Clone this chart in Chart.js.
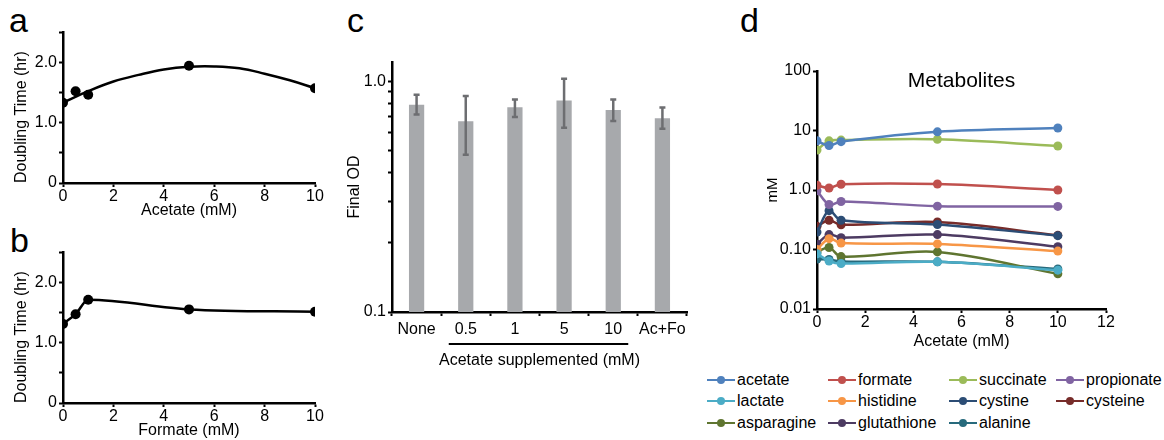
<!DOCTYPE html>
<html>
<head>
<meta charset="utf-8">
<script src="https://cdn.jsdelivr.net/npm/chart.js@4"></script>
<style>
  body { margin: 0; width: 1164px; height: 440px; background: #fff; position: relative; overflow: hidden;
         font-family: "Liberation Sans", Arial, sans-serif; color: #000; }
  canvas { position: absolute; }
  .letter { position: absolute; font-size: 34px; line-height: 1; }
  #legend { position: absolute; left: 707px; top: 369px; display: grid;
            grid-template-columns: 121px 121px 107px 90px; grid-auto-rows: 21.5px; font-size: 16px; }
  #legend div { display: flex; align-items: center; white-space: nowrap; }
  #legend .sw { position: relative; flex: none; width: 28px; height: 2px; margin-right: 2px; }
  #legend .sw i { position: absolute; left: 10px; top: -3px; width: 8px; height: 8px; border-radius: 50%; }
</style>
</head>
<body>
<div class="letter" style="left:9px;top:3px">a</div>
<div class="letter" style="left:10px;top:223px">b</div>
<div class="letter" style="left:347px;top:3px">c</div>
<div class="letter" style="left:740px;top:3px">d</div>

<canvas id="chartA" width="340" height="220" style="left:0;top:0"></canvas>
<canvas id="chartB" width="340" height="220" style="left:0;top:220px"></canvas>
<canvas id="chartC" width="360" height="380" style="left:340px;top:0"></canvas>
<canvas id="chartD" width="424" height="320" style="left:740px;top:40px"></canvas>
<div id="legend"></div>

<script>
// ============================
// DATA
// ============================
// a / b: doubling time vs supplement
const acetateX = [0, 0.5, 1, 5, 10];
const doublingAcetate = [1.33, 1.52, 1.46, 1.94, 1.57];
// trend line
const acetateFitX = [0, 1, 2, 3, 4, 5, 6, 7, 8, 9, 10];
const acetateFitY = [1.33, 1.52, 1.68, 1.79, 1.88, 1.925, 1.93, 1.9, 1.81, 1.7, 1.57];

const formateX = [0, 0.5, 1, 5, 10];
const doublingFormate = [1.31, 1.47, 1.71, 1.55, 1.51];

// c: final OD
const odLabels = ["None", "0.5", "1", "5", "10", "Ac+Fo"];
const odMean = [0.79, 0.67, 0.77, 0.825, 0.75, 0.69];
const odLow = [0.717, 0.48, 0.70, 0.628, 0.671, 0.622];
const odHigh = [0.872, 0.861, 0.833, 1.023, 0.833, 0.769];

// d: metabolites (mM) at acetate 0, 0.5, 1, 5, 10 mM
const metaboliteX = [0, 0.5, 1, 5, 10];
const acetate     = [6.7, 5.6, 6.5, 9.5, 11.0];
const formate     = [1.2, 1.08, 1.25, 1.26, 1.0];
const succinate   = [4.7, 6.7, 6.9, 7.1, 5.5];
const propionate  = [0.97, 0.57, 0.64, 0.535, 0.53];
const lactate     = [0.085, 0.064, 0.058, 0.062, 0.045];
const histidine   = [0.10, 0.152, 0.128, 0.124, 0.094];
const cystine     = [0.196, 0.45, 0.31, 0.263, 0.171];
const cysteine    = [0.245, 0.31, 0.26, 0.29, 0.173];
const asparagine  = [0.091, 0.108, 0.076, 0.091, 0.039];
const glutathione = [0.123, 0.178, 0.158, 0.178, 0.111];
const alanine     = [0.069, 0.068, 0.063, 0.062, 0.047];

const metaboliteNames = ["acetate", "formate", "succinate", "propionate", "lactate", "histidine",
                         "cystine", "cysteine", "asparagine", "glutathione", "alanine"];
const metaboliteValues = [acetate, formate, succinate, propionate, lactate, histidine,
                          cystine, cysteine, asparagine, glutathione, alanine];
const metaboliteColors = ["#4F81BD", "#C0504D", "#9BBB59", "#8064A2", "#4BACC6", "#F79646",
                          "#2C4D75", "#772C2A", "#5F7530", "#4D3B62", "#276A7C"];

// ============================
// SHARED STYLE
// ============================
Chart.defaults.font.family = '"Liberation Sans", Arial, sans-serif';
Chart.defaults.color = "#000";
Chart.defaults.animation = false;

const grid = { drawOnChartArea: false, tickLength: 4, tickColor: "#000", tickWidth: 2 };
const border = { color: "#000", width: 2.5 };
const noPlugins = { legend: { display: false }, tooltip: { enabled: false } };

function pts(xs, ys) {
  return xs.map((x, i) => ({ x: x, y: ys[i] }));
}

// ============================
// a & b: DOUBLING TIME
// ============================
function doublingChart(id, xs, ys, fit, xTitle) {
  const datasets = [];
  if (fit) {
    datasets.push({ data: pts(fit.x, fit.y), showLine: true, pointRadius: 0,
                    borderColor: "#000", borderWidth: 2.5, tension: 0.4 });
  }
  datasets.push({ data: pts(xs, ys), showLine: !fit, pointRadius: 5, pointBackgroundColor: "#000",
                  pointBorderWidth: 0, borderColor: "#000", borderWidth: 2.5,
                  cubicInterpolationMode: "monotone" });

  new Chart(document.getElementById(id), {
    type: "scatter",
    data: { datasets: datasets },
    options: {
      responsive: false,
      layout: { padding: { left: 0, top: 32, right: 25, bottom: 0 } },
      plugins: noPlugins,
      scales: {
        x: {
          type: "linear", min: 0, max: 10,
          ticks: { stepSize: 2, font: { size: 16 }, padding: 0, maxRotation: 0 },
          grid: grid, border: border,
          title: { display: true, text: xTitle, font: { size: 16 }, padding: { top: 0, bottom: 0 } },
          afterFit: s => { s.height = 37; }
        },
        y: {
          min: 0, max: 2.5,
          ticks: { stepSize: 0.5, font: { size: 16 }, padding: 2,
                   callback: v => v === 0 ? "0" : (v % 1 === 0 ? v.toFixed(1) : "") },
          grid: grid, border: border,
          title: { display: true, text: "Doubling Time (hr)", align: "start", font: { size: 16 },
                   padding: { top: 12, bottom: 0 } },
          afterFit: s => { s.width = 63; }
        }
      }
    }
  });
}

doublingChart("chartA", acetateX, doublingAcetate, { x: acetateFitX, y: acetateFitY }, "Acetate (mM)");
doublingChart("chartB", formateX, doublingFormate, null, "Formate (mM)");

// ============================
// c: FINAL OD (bars + error bars)
// ============================
const errorBars = {
  id: "errorBars",
  afterDatasetsDraw(chart) {
    const { ctx, scales: { x, y } } = chart;
    ctx.save();
    ctx.strokeStyle = "#6d6e71";
    ctx.lineWidth = 2.5;
    odLabels.forEach((lab, i) => {
      const px = x.getPixelForValue(i);
      const lo = y.getPixelForValue(odLow[i]);
      const hi = y.getPixelForValue(odHigh[i]);
      ctx.beginPath();
      ctx.moveTo(px, lo); ctx.lineTo(px, hi);
      ctx.moveTo(px - 3, lo); ctx.lineTo(px + 3, lo);
      ctx.moveTo(px - 3, hi); ctx.lineTo(px + 3, hi);
      ctx.stroke();
    });
    // bracket under the acetate categories
    ctx.strokeStyle = "#000";
    ctx.lineWidth = 2;
    ctx.beginPath();
    ctx.moveTo(x.getPixelForValue(1) - 17, 344);
    ctx.lineTo(x.getPixelForValue(4) + 15, 344);
    ctx.stroke();
    ctx.restore();
  }
};

new Chart(document.getElementById("chartC"), {
  type: "bar",
  data: {
    labels: odLabels,
    datasets: [{ data: odMean, backgroundColor: "#a7a9ac", barPercentage: 0.31, categoryPercentage: 1 }]
  },
  options: {
    responsive: false,
    layout: { padding: { left: 0, top: 62, right: 13, bottom: 0 } },
    plugins: noPlugins,
    scales: {
      x: {
        ticks: { font: { size: 16 }, padding: 4, maxRotation: 0, autoSkip: false },
        grid: grid, border: border,
        title: { display: true, text: "Acetate supplemented (mM)", font: { size: 16 }, padding: { top: 0, bottom: 10 } },
        afterFit: s => { s.height = 68; }
      },
      y: {
        type: "logarithmic", min: 0.1, max: 1.21,
        ticks: { font: { size: 16 }, padding: 2, autoSkip: false,
                 callback: v => {
                   if (Math.abs(v - 0.1) < 1e-6) return "0.1";
                   if (Math.abs(v - 1) < 1e-6) return "1.0";
                   if (v > 1.001) return null;
                   return "";
                 } },
        grid: grid, border: border,
        title: { display: true, text: "Final OD", font: { size: 16 }, padding: { top: 5, bottom: 0 } },
        afterFit: s => { s.width = 52; }
      }
    }
  },
  plugins: [errorBars]
});

// ============================
// d: METABOLITES
// ============================
const panelTitle = {
  id: "panelTitle",
  afterDraw(chart) {
    const { ctx, chartArea } = chart;
    ctx.save();
    ctx.font = '21px "Liberation Sans", Arial, sans-serif';
    ctx.fillStyle = "#000";
    ctx.textAlign = "center";
    ctx.textBaseline = "middle";
    ctx.fillText("Metabolites", (chartArea.left + chartArea.right) / 2, 41);
    ctx.restore();
  }
};

const decadeLabels = { "-2": "0.01", "-1": "0.10", "0": "1.0", "1": "10", "2": "100" };

const chartD = new Chart(document.getElementById("chartD"), {
  type: "scatter",
  data: {
    datasets: metaboliteNames.map((name, i) => ({
      label: name,
      data: pts(metaboliteX, metaboliteValues[i]),
      showLine: true,
      tension: 0.35,
      borderColor: metaboliteColors[i],
      backgroundColor: metaboliteColors[i],
      pointBackgroundColor: metaboliteColors[i],
      pointBorderWidth: 0,
      pointRadius: 4.5,
      borderWidth: 2.5
    }))
  },
  options: {
    responsive: false,
    layout: { padding: { left: 0, top: 31, right: 58, bottom: 0 } },
    plugins: noPlugins,
    scales: {
      x: {
        type: "linear", min: 0, max: 12,
        ticks: { stepSize: 2, font: { size: 16 }, padding: 0, maxRotation: 0 },
        grid: grid, border: border,
        title: { display: true, text: "Acetate (mM)", font: { size: 16 }, padding: { top: 0, bottom: 9 } },
        afterFit: s => { s.height = 51; }
      },
      y: {
        type: "logarithmic", min: 0.01, max: 100,
        ticks: { font: { size: 16 }, padding: 2, autoSkip: false,
                 callback: v => {
                   const e = Math.log10(v);
                   if (Math.abs(e - Math.round(e)) < 1e-6) return decadeLabels[String(Math.round(e))];
                   return null;
                 } },
        grid: grid, border: border,
        title: { display: true, text: "mM", font: { size: 15 }, padding: { top: 24, bottom: 0 } },
        afterFit: s => { s.width = 77; }
      }
    }
  },
  plugins: [panelTitle]
});

// ============================
// LEGEND (HTML, built from the datasets)
// ============================
const legendEl = document.getElementById("legend");
chartD.data.datasets.forEach(ds => {
  const item = document.createElement("div");
  item.innerHTML = '<span class="sw" style="background:' + ds.borderColor + '"><i style="background:' +
                   ds.borderColor + '"></i></span>' + ds.label;
  legendEl.appendChild(item);
});
</script>
</body>
</html>
